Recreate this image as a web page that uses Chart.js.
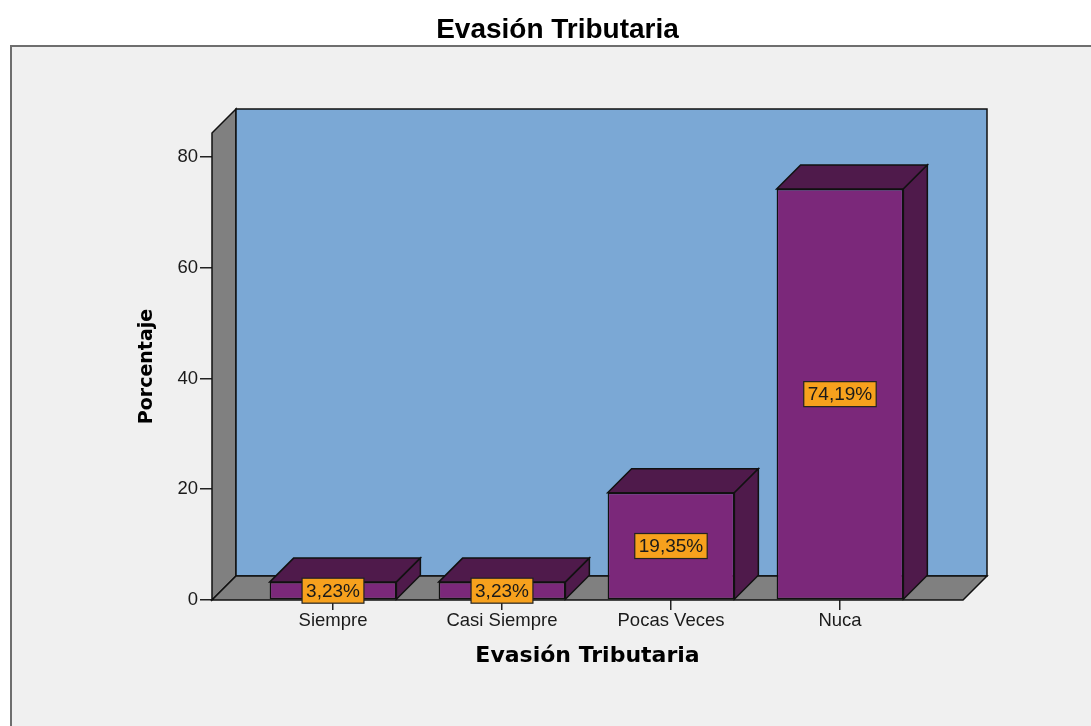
<!DOCTYPE html>
<html>
<head>
<meta charset="utf-8">
<script src="https://cdn.jsdelivr.net/npm/chart.js@4.4.1/dist/chart.umd.min.js"></script>
<style>
  html, body { margin: 0; padding: 0; background: #fff; }
</style>
</head>
<body>
<canvas id="evasion" width="1091" height="726"></canvas>
<script>
const categories = ["Siempre", "Casi Siempre", "Pocas Veces", "Nuca"];
const porcentajes = [3.23, 3.23, 19.35, 74.19];
const yTicks = [0, 20, 40, 60, 80];

const DEPTH = 24;
const labelFont = "19px 'Liberation Sans', Arial, sans-serif";

function poly(c, pts, fill) {
  c.beginPath();
  c.moveTo(pts[0][0], pts[0][1]);
  for (let i = 1; i < pts.length; i++) c.lineTo(pts[i][0], pts[i][1]);
  c.closePath();
  c.fillStyle = fill;
  c.fill();
  c.strokeStyle = "#111";
  c.lineWidth = 1.5;
  c.stroke();
}

// background panel, 3d walls, bar tops/sides and value boxes
const frame3d = {
  id: "frame3d",
  beforeDraw(chart) {
    const c = chart.ctx;
    c.save();
    c.fillStyle = "#ffffff";
    c.fillRect(0, 0, chart.width, chart.height);
    c.fillStyle = "#f0f0f0";
    c.fillRect(11, 46, chart.width - 11, chart.height - 46);
    c.strokeStyle = "#6e6e6e";
    c.lineWidth = 2;
    c.beginPath();
    c.moveTo(11, chart.height);
    c.lineTo(11, 46);
    c.lineTo(chart.width, 46);
    c.stroke();
    c.restore();
  },
  beforeDatasetsDraw(chart) {
    const { left, right, top, bottom } = chart.chartArea;
    const c = chart.ctx;
    const d = DEPTH;
    c.save();
    poly(c, [[left, top], [left + d, top - d], [left + d, bottom - d], [left, bottom]], "#808080");
    poly(c, [[left + d, top - d], [right + d, top - d], [right + d, bottom - d], [left + d, bottom - d]], "#7ba8d5");
    poly(c, [[left, bottom], [left + d, bottom - d], [right + d, bottom - d], [right, bottom]], "#808080");
    c.restore();
  },
  afterDatasetsDraw(chart) {
    const c = chart.ctx;
    const d = DEPTH;
    const meta = chart.getDatasetMeta(0);
    c.save();
    meta.data.forEach((bar) => {
      const { x, y, base, width } = bar.getProps(["x", "y", "base", "width"], true);
      const x0 = x - width / 2, x1 = x + width / 2;
      poly(c, [[x0, y], [x0 + d, y - d], [x1 + d, y - d], [x1, y]], "#4f1a4b");
      poly(c, [[x1, y], [x1 + d, y - d], [x1 + d, base - d], [x1, base]], "#4f1a4b");
    });
    c.font = labelFont;
    c.textAlign = "center";
    c.textBaseline = "middle";
    meta.data.forEach((bar, i) => {
      const { x, y, base } = bar.getProps(["x", "y", "base"], true);
      const txt = porcentajes[i].toFixed(2).replace(".", ",") + "%";
      const w = c.measureText(txt).width + 8;
      const h = 25;
      const cy = (y + base) / 2;
      c.fillStyle = "#f7a11d";
      c.fillRect(x - w / 2, cy - h / 2, w, h);
      c.strokeStyle = "#222";
      c.lineWidth = 1.2;
      c.strokeRect(x - w / 2, cy - h / 2, w, h);
      c.fillStyle = "#1a1a1a";
      c.fillText(txt, x, cy + 1);
    });
    c.restore();
  },
};

const tickFont = { family: "'Liberation Sans', Arial, sans-serif", size: 18.5 };

new Chart(document.getElementById("evasion"), {
  type: "bar",
  data: {
    datasets: [
      {
        label: "Porcentaje",
        data: porcentajes.map((v, i) => ({ x: i, y: v })),
        backgroundColor: "#7b287a",
        borderColor: "#111",
        borderWidth: 1.5,
        borderSkipped: false,
        categoryPercentage: 1,
        barPercentage: 0.75,
      },
    ],
  },
  options: {
    responsive: false,
    animation: false,
    layout: { padding: { left: 24, right: 0, top: 0, bottom: 0 } },
    plugins: {
      legend: { display: false },
      tooltip: { enabled: false },
      title: {
        display: true,
        text: "Evasión Tributaria",
        color: "#000",
        font: { family: "'Liberation Sans', Arial, sans-serif", size: 28, weight: "bold" },
        padding: { top: 13.5, bottom: 85.9 },
      },
    },
    scales: {
      x: {
        type: "linear",
        min: -0.716,
        max: 3.728,
        offset: false,
        afterBuildTicks: (s) => {
          s.ticks = categories.map((c, i) => ({ value: i }));
        },
        afterFit: (s) => {
          s.height = 126;
        },
        grid: { offset: false, drawOnChartArea: false, tickLength: 10, color: "#222", lineWidth: 1.5 },
        border: { display: false },
        ticks: {
          callback: (v) => categories[v],
          padding: 0,
          autoSkip: false,
          maxRotation: 0,
          color: "#1a1a1a",
          font: tickFont,
        },
        title: {
          display: true,
          text: "Evasión Tributaria",
          color: "#000",
          font: { family: "'DejaVu Sans'", size: 22, weight: "bold" },
          padding: { top: 0, bottom: 57 },
        },
      },
      y: {
        min: 0,
        max: 84.3,
        afterBuildTicks: (s) => {
          s.ticks = yTicks.map((v) => ({ value: v }));
        },
        afterFit: (s) => {
          s.width = 188;
        },
        grid: { drawOnChartArea: false, tickLength: 12, color: "#222", lineWidth: 1.5 },
        border: { display: false },
        ticks: { padding: 2, color: "#1a1a1a", font: tickFont },
        title: {
          display: true,
          text: "Porcentaje",
          color: "#000",
          font: { family: "'DejaVu Sans'", size: 19, weight: "bold" },
          padding: { top: 112, bottom: 0 },
        },
      },
      y2: {
        position: "right",
        display: true,
        grid: { display: false },
        border: { display: false },
        ticks: { display: false },
        afterFit: (s) => {
          s.width = 128;
        },
      },
    },
  },
  plugins: [frame3d],
});
</script>
</body>
</html>
